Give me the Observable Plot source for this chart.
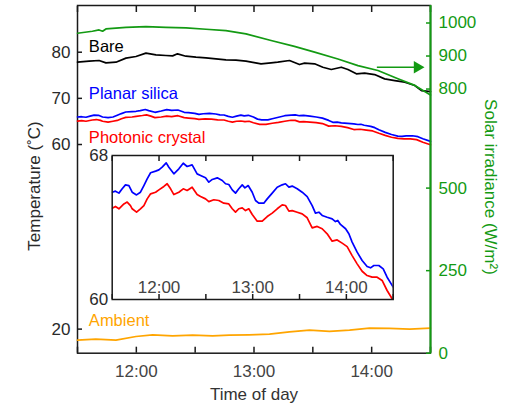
<!DOCTYPE html>
<html><head><meta charset="utf-8">
<script src="https://cdn.jsdelivr.net/npm/d3@7"></script>
<script src="https://cdn.jsdelivr.net/npm/@observablehq/plot@0.6"></script>
<style>
body{margin:0;background:#fff;}
#chart{position:relative;width:510px;height:407px;}
#chart svg{position:absolute;left:0;top:0;}
</style></head><body><div id="chart"></div>
<script>
// ---- data (time = minutes after 11:30) ----
const xDomain = [0, 180];
const xMinorTicks = [0, 30, 60, 90, 120, 150, 180];
const xLabelTicks = [30, 90, 150];
const xTickLabels = ["12:00", "13:00", "14:00"];
const tempDomain = [14.78, 90.12];
const tempTicks = [20, 60, 70, 80];
const solarDomain = [0, 1053];
const solarTicks = [0, 250, 500, 800, 900, 1000];
const insetDomain = [60, 68];
const insetTicks = [60, 68];

const bareTime = [0, 5.9, 11.0, 14.5, 19.6, 24.7, 29.8, 34.9, 40.0, 45.1, 48.5, 51.0, 55.3, 60.4, 65.5, 70.6, 75.7, 80.8, 85.9, 93.6, 98.7, 102.1, 108.1, 113.2, 115.8, 120.9, 125.1, 129.4, 134.5, 137.9, 142.2, 146.4, 151.5, 156.6, 161.8, 166.9, 172.0, 175.4, 180];
const bareTemp = [77.84, 78.05, 78.2, 77.69, 77.84, 78.71, 79.07, 79.79, 79.43, 79.28, 79.2, 79.65, 79.13, 78.92, 78.78, 78.56, 78.34, 78.27, 78.05, 77.48, 77.69, 77.84, 78.2, 77.33, 77.62, 77.48, 76.75, 76.25, 76.75, 76.25, 75.31, 75.45, 75.16, 74.22, 73.86, 73.5, 72.78, 71.69, 71.45];

const planarTime = [0, 2.1, 4.3, 6.4, 8.5, 10.7, 12.8, 15.6, 18.1, 20.3, 22.4, 24.6, 27.8, 29.9, 32.0, 34.6, 36.3, 39.5, 42.7, 45.5, 48.0, 51.2, 54.4, 56.6, 59.8, 61.9, 64.1, 67.3, 70.5, 72.6, 74.7, 76.9, 79.0, 81.1, 83.3, 85.0, 87.1, 89.7, 91.8, 93.9, 97.1, 99.3, 102.5, 105.7, 108.9, 111.0, 113.2, 115.3, 118.5, 121.7, 124.9, 128.1, 130.2, 132.4, 134.5, 137.7, 140.9, 143.0, 144.5, 146.2, 149.5, 151.6, 153.7, 156.9, 160.1, 163.3, 165.5, 167.6, 170.8, 173.6, 176.1, 180];
const planarTemp = [65.96, 66.02, 65.91, 66.15, 66.37, 66.33, 65.96, 65.81, 65.96, 66.33, 66.70, 67.04, 67.13, 67.20, 67.35, 67.59, 67.35, 66.98, 67.26, 67.57, 67.39, 67.48, 66.98, 66.89, 66.76, 66.52, 66.67, 66.76, 66.61, 66.43, 66.39, 66.09, 65.91, 66.15, 66.37, 66.20, 66.33, 65.96, 65.50, 65.35, 65.35, 65.59, 65.91, 66.24, 66.37, 66.43, 66.24, 66.30, 66.15, 65.96, 65.72, 65.22, 64.80, 64.85, 64.67, 64.57, 64.48, 64.33, 64.39, 64.17, 63.93, 63.65, 63.19, 62.63, 62.17, 61.83, 61.76, 61.89, 61.89, 61.70, 61.24, 60.69];

const photonicTime = [0, 2.1, 4.3, 7.5, 9.6, 11.7, 12.8, 15.6, 18.1, 20.3, 22.4, 24.6, 27.8, 29.9, 33.1, 35.2, 37.4, 39.5, 42.7, 45.5, 48.0, 51.2, 54.4, 56.6, 59.8, 61.9, 65.1, 68.3, 71.5, 74.7, 76.9, 79.0, 81.1, 83.3, 85.4, 87.5, 89.7, 92.9, 96.1, 99.3, 102.5, 105.7, 108.9, 111.0, 113.2, 115.3, 118.5, 121.7, 124.9, 128.1, 131.3, 134.5, 137.7, 140.9, 144.1, 147.3, 150.5, 153.7, 156.9, 160.1, 163.3, 166.5, 169.7, 172.9, 176.1, 180];
const photonicTemp = [65.07, 65.17, 65.04, 65.31, 65.41, 65.22, 65.04, 64.85, 65.04, 65.22, 65.59, 65.87, 65.96, 66.09, 66.28, 66.43, 66.15, 65.83, 65.96, 66.15, 66.06, 66.24, 65.83, 65.72, 65.59, 65.44, 65.54, 65.50, 65.35, 65.31, 65.04, 64.85, 65.04, 65.09, 64.94, 65.04, 64.72, 64.35, 64.35, 64.61, 64.80, 65.04, 65.26, 65.22, 64.91, 64.94, 64.85, 64.76, 64.54, 63.98, 64.06, 63.93, 63.65, 63.24, 63.31, 63.13, 62.94, 62.44, 61.98, 61.57, 61.33, 61.24, 61.24, 61.06, 60.50, 59.94];

const ambientTime = [0, 9.3, 19.6, 29.8, 38.3, 48.5, 58.7, 68.9, 77.4, 87.6, 97.9, 108.1, 118.3, 128.5, 138.7, 148.9, 159.1, 169.4, 180];
const ambientTemp = [17.61, 17.83, 17.61, 18.4, 18.76, 18.55, 18.7, 18.55, 18.7, 18.76, 18.91, 19.41, 19.78, 19.49, 19.78, 20.21, 20.14, 20.0, 20.21];

const solarTime = [0, 7.6, 11.0, 12.8, 14.5, 24.7, 34.9, 45.1, 55.3, 65.5, 75.7, 85.9, 98.7, 110.6, 120.9, 132.8, 143.0, 153.2, 163.4, 172.0, 180];
const solarIrr = [969, 975, 979, 975, 982, 987, 989, 987, 985, 981, 977, 967, 947, 929, 912, 891, 871, 856, 831, 811, 782];

// annotations (data units)
const seriesLabelNames = ["Bare", "Planar silica", "Photonic crystal", "Ambient"];
const seriesLabelTime = [5.8, 5.8, 5.8, 5.8];
const seriesLabelTemp = [81.13, 70.9, 61.37, 21.71];
const arrowNote = {t1: 152.9, t2: 173.3, irr: 866};
const tempTitle = "Temperature (\u02DAC)";
const solarTitle = "Solar irradiance (W/m\u00B2)";
const timeTitle = "Time of day";

// ---- styling ----
const GREEN = "#139a13", BLUE = "#0000ff", RED = "#ff0000", ORANGE = "#ffa500";
const labelColors = ["#000000", BLUE, RED, ORANGE];
const FONT = '"Liberation Sans", Arial, Helvetica, sans-serif';
const W = 510, H = 407;
const M = {marginLeft: 77, marginRight: 80, marginTop: 5, marginBottom: 54.3};
const baseStyle = {fontFamily: FONT, fontSize: "17px", background: "transparent", overflow: "visible"};

const zip = (ts, vs) => ts.map((t, i) => ({t, v: vs[i]}));
const bare = zip(bareTime, bareTemp);
const planar = zip(planarTime, planarTemp);
const photonic = zip(photonicTime, photonicTemp);
const ambient = zip(ambientTime, ambientTemp);
const solar = zip(solarTime, solarIrr);
const labelMap = new Map(xLabelTicks.map((d, i) => [d, xTickLabels[i]]));
const blank = () => "";
const plain = d => String(d);

const labelMarks = seriesLabelNames.map((name, i) =>
  Plot.text([{t: seriesLabelTime[i], v: seriesLabelTemp[i], name}], {
    x: "t", y: "v", text: "name", textAnchor: "start", lineAnchor: "middle",
    fill: labelColors[i], fontSize: 16.5
  }));

const main = Plot.plot({
  width: W, height: H, ...M,
  style: {...baseStyle, background: "white"},
  x: {domain: xDomain, label: null},
  y: {domain: tempDomain, label: null},
  marks: [
    Plot.frame({stroke: "#1a1a1a", strokeWidth: 1.5}),
    Plot.axisX(xMinorTicks, {anchor: "bottom", tickSize: 6, dy: -6, tickFormat: blank, stroke: "#1a1a1a", strokeWidth: 1.5, label: null}),
    Plot.axisX(xMinorTicks, {anchor: "top", tickSize: 6, dy: 6, tickFormat: blank, stroke: "#1a1a1a", strokeWidth: 1.5, label: null}),
    Plot.axisX(xLabelTicks, {anchor: "bottom", tickSize: 0, tickPadding: 12, tickFormat: d => labelMap.get(d), fill: "#444", label: null}),
    Plot.axisY(tempTicks, {anchor: "left", tickSize: 5, dx: 5, tickFormat: blank, stroke: "#1a1a1a", strokeWidth: 1.5, label: null}),
    Plot.axisY(tempTicks, {anchor: "left", tickSize: 0, tickPadding: 7, tickFormat: plain, fill: "#2a2a2a", label: null}),
    Plot.line(ambient, {x: "t", y: "v", stroke: ORANGE, strokeWidth: 1.7}),
    Plot.line(bare, {x: "t", y: "v", stroke: "black", strokeWidth: 1.7}),
    Plot.line(planar, {x: "t", y: "v", stroke: BLUE, strokeWidth: 1.7}),
    Plot.line(photonic, {x: "t", y: "v", stroke: RED, strokeWidth: 1.7}),
    ...labelMarks,
    Plot.text([tempTitle], {text: d => d, frameAnchor: "left", rotate: -90, dx: -43, dy: 6.6, textAnchor: "middle", lineAnchor: "middle", fill: "#2a2a2a"}),
    Plot.text([timeTitle], {text: d => d, frameAnchor: "bottom", dy: 41, textAnchor: "middle", lineAnchor: "middle", fill: "#333"})
  ]
});

const solarPlot = Plot.plot({
  width: W, height: H, ...M,
  style: baseStyle,
  x: {domain: xDomain, label: null, axis: null},
  y: {domain: solarDomain, label: null},
  marks: [
    Plot.line(solar, {x: "t", y: "v", stroke: GREEN, strokeWidth: 1.7}),
    Plot.ruleX([xDomain[1]], {stroke: GREEN, strokeWidth: 2}),
    Plot.axisY(solarTicks, {anchor: "right", tickSize: 5, dx: -5, tickFormat: blank, stroke: GREEN, strokeWidth: 1.5, label: null}),
    Plot.axisY(solarTicks, {anchor: "right", tickSize: 0, tickPadding: 8, tickFormat: plain, fill: GREEN, label: null}),
    Plot.ruleY([arrowNote], {x1: "t1", x2: "t2", y: "irr", stroke: GREEN, strokeWidth: 1.7}),
    Plot.dot([arrowNote], {x: "t2", y: "irr", symbol: "triangle", rotate: 90, r: 4.6, fill: GREEN, stroke: "none"}),
    Plot.text([solarTitle], {text: d => d, frameAnchor: "right", rotate: 90, dx: 60, dy: 7.6, textAnchor: "middle", lineAnchor: "middle", fill: GREEN})
  ]
});

const inset = Plot.plot({
  width: W, height: H,
  marginLeft: 111.7, marginRight: 117.3, marginTop: 155, marginBottom: 108,
  style: baseStyle,
  x: {domain: xDomain, label: null},
  y: {domain: insetDomain, label: null},
  marks: [
    Plot.frame({fill: "white", stroke: "none"}),
    Plot.line(planar, {x: "t", y: "v", stroke: BLUE, strokeWidth: 1.7, clip: true}),
    Plot.line(photonic, {x: "t", y: "v", stroke: RED, strokeWidth: 1.7, clip: true}),
    Plot.frame({stroke: "#1a1a1a", strokeWidth: 1.5}),
    Plot.axisX(xMinorTicks, {anchor: "bottom", tickSize: 5, dy: -5, tickFormat: blank, stroke: "#1a1a1a", strokeWidth: 1.5, label: null}),
    Plot.axisX(xMinorTicks, {anchor: "top", tickSize: 5, dy: 5, tickFormat: blank, stroke: "#1a1a1a", strokeWidth: 1.5, label: null}),
    Plot.axisX(xLabelTicks, {anchor: "bottom", tickSize: 0, tickPadding: 0, dy: -18.5, tickFormat: d => labelMap.get(d), fill: "#444", label: null}),
    Plot.axisY(insetTicks, {anchor: "left", tickSize: 0, tickPadding: 4, tickFormat: plain, fill: "#2a2a2a", label: null})
  ]
});

const chart = document.getElementById("chart");
chart.append(main, solarPlot, inset);
</script>
</body></html>
